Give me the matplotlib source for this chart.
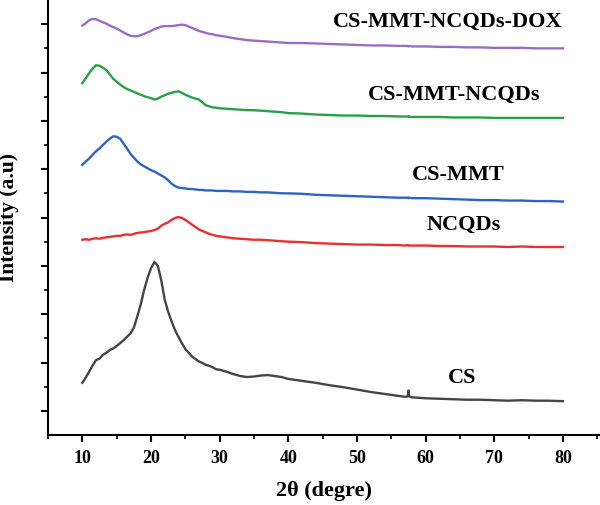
import matplotlib
matplotlib.use("Agg")
import matplotlib.pyplot as plt
from matplotlib.ticker import MultipleLocator, NullFormatter

# 2theta sampling
two_theta = [10, 10.5, 11, 11.5, 12, 12.5, 13, 13.5, 14, 14.5, 15, 15.5, 16, 16.5, 17, 17.5, 18, 18.5, 19, 19.5,
             20, 20.5, 21, 21.5, 22, 22.5, 23, 23.5, 24, 24.5, 25, 25.5, 26, 26.5, 27, 27.5, 28, 28.5, 29, 29.5, 30,
             31, 32, 33, 34, 35, 36, 37, 38, 39, 40, 42, 44, 46, 48, 50, 52, 54, 56, 57, 57.4, 57.5, 57.6, 58,
             60, 62, 64, 66, 68, 70, 72, 74, 76, 78, 80]

# stacked intensities (arbitrary units, offsets included)
cs = [1.08, 1.19, 1.31, 1.44, 1.55, 1.58, 1.66, 1.70, 1.76, 1.79, 1.84, 1.90, 1.96, 2.03, 2.10, 2.22, 2.45, 2.70, 3.00, 3.25,
      3.45, 3.58, 3.50, 3.20, 2.80, 2.55, 2.35, 2.17, 2.03, 1.90, 1.78, 1.70, 1.62, 1.57, 1.52, 1.49, 1.45, 1.43, 1.40, 1.36, 1.35,
      1.31, 1.26, 1.22, 1.20, 1.21, 1.23, 1.24, 1.22, 1.20, 1.16, 1.12, 1.08, 1.03, 0.99, 0.94, 0.89, 0.85, 0.81, 0.79, 0.80, 0.92, 0.80, 0.78,
      0.76, 0.75, 0.74, 0.73, 0.73, 0.72, 0.71, 0.72, 0.71, 0.71, 0.70]

ncqds = [4.04, 4.05, 4.04, 4.06, 4.07, 4.06, 4.08, 4.09, 4.10, 4.11, 4.12, 4.12, 4.14, 4.15, 4.14, 4.16, 4.18, 4.19, 4.20, 4.21,
         4.22, 4.24, 4.27, 4.33, 4.37, 4.40, 4.45, 4.49, 4.51, 4.49, 4.45, 4.40, 4.35, 4.30, 4.25, 4.22, 4.19, 4.16, 4.14, 4.12, 4.11,
         4.09, 4.07, 4.06, 4.05, 4.04, 4.04, 4.03, 4.02, 4.01, 4.00, 3.99, 3.97, 3.96, 3.95, 3.94, 3.94, 3.93, 3.93, 3.92, 3.93, 3.92, 3.92, 3.92,
         3.92, 3.91, 3.91, 3.90, 3.90, 3.90, 3.89, 3.90, 3.89, 3.89, 3.89]

cs_mmt = [5.59, 5.66, 5.72, 5.80, 5.87, 5.93, 6.00, 6.07, 6.13, 6.18, 6.17, 6.13, 6.03, 5.93, 5.82, 5.74, 5.66, 5.60, 5.56, 5.52,
          5.48, 5.45, 5.41, 5.37, 5.33, 5.27, 5.20, 5.15, 5.12, 5.11, 5.10, 5.09, 5.09, 5.08, 5.07, 5.07, 5.06, 5.06, 5.06, 5.05, 5.05,
          5.05, 5.04, 5.04, 5.03, 5.03, 5.02, 5.02, 5.01, 5.00, 5.00, 4.99, 4.97, 4.96, 4.95, 4.94, 4.93, 4.92, 4.91, 4.91, 4.91, 4.90, 4.91, 4.90,
          4.90, 4.89, 4.88, 4.87, 4.86, 4.86, 4.85, 4.85, 4.84, 4.84, 4.83]

cs_mmt_ncqds = [7.28, 7.38, 7.49, 7.58, 7.65, 7.64, 7.60, 7.55, 7.46, 7.37, 7.31, 7.25, 7.20, 7.16, 7.13, 7.10, 7.07, 7.04, 7.01, 6.99,
                6.97, 6.94, 6.96, 7.00, 7.03, 7.06, 7.08, 7.10, 7.11, 7.08, 7.04, 7.01, 6.98, 6.96, 6.94, 6.88, 6.82, 6.80, 6.78, 6.77, 6.76,
                6.75, 6.74, 6.73, 6.72, 6.72, 6.71, 6.70, 6.69, 6.68, 6.66, 6.65, 6.63, 6.62, 6.61, 6.61, 6.60, 6.60, 6.59, 6.59, 6.59, 6.58, 6.59, 6.58,
                6.58, 6.58, 6.57, 6.57, 6.57, 6.56, 6.56, 6.56, 6.56, 6.56, 6.56]

cs_mmt_ncqds_dox = [8.47, 8.52, 8.58, 8.61, 8.60, 8.57, 8.54, 8.51, 8.47, 8.44, 8.41, 8.37, 8.33, 8.29, 8.26, 8.25, 8.25, 8.27, 8.30, 8.33,
                    8.36, 8.40, 8.42, 8.45, 8.46, 8.46, 8.46, 8.47, 8.48, 8.49, 8.48, 8.45, 8.42, 8.39, 8.36, 8.34, 8.32, 8.30, 8.29, 8.27, 8.26,
                    8.24, 8.21, 8.19, 8.17, 8.16, 8.15, 8.14, 8.13, 8.12, 8.11, 8.11, 8.10, 8.09, 8.08, 8.07, 8.06, 8.06, 8.05, 8.05, 8.05, 8.04, 8.05, 8.04,
                    8.04, 8.03, 8.03, 8.02, 8.02, 8.01, 8.01, 8.01, 8.00, 8.00, 8.00]

names = ["CS", "NCQDs", "CS-MMT", "CS-MMT-NCQDs", "CS-MMT-NCQDs-DOX"]
series = [cs, ncqds, cs_mmt, cs_mmt_ncqds, cs_mmt_ncqds_dox]
colors = ["#454545", "#e8312e", "#2f62c4", "#27a046", "#9c6cc4"]
label_x = [65.3, 65.6, 64.8, 64.1, 63.2]
label_y = [1.18, 4.35, 5.38, 7.04, 8.55]

plt.rcParams['font.family'] = ['Liberation Serif', 'DejaVu Serif']
plt.rcParams['font.weight'] = 'bold'

fig = plt.figure(figsize=(6, 5.05), dpi=100)
ax = fig.add_axes([0.08, 0.1386, 0.92, 0.8614])

for name, ys, c, lx, ly in zip(names, series, colors, label_x, label_y):
    ax.plot(two_theta, ys, color=c, lw=1.7)
    ax.text(lx, ly, name, ha='center', va='center', fontsize=16, fontweight='bold')

ax.set_xlim(5, 85.4)
ax.set_ylim(0, 9)
ax.xaxis.set_minor_locator(MultipleLocator(5))
ax.set_xticks([10, 20, 30, 40, 50, 60, 70, 80])
ax.set_yticks([0.5 + i for i in range(9)])
ax.set_yticks(list(range(1, 9)), minor=True)
ax.yaxis.set_major_formatter(NullFormatter())

for s in ['top', 'right']:
    ax.spines[s].set_visible(False)
for s in ['left', 'bottom']:
    ax.spines[s].set_linewidth(1.5)
ax.tick_params(which='major', direction='out', length=5, width=1.5, labelsize=13, pad=6)
ax.tick_params(which='minor', direction='out', length=3, width=1.2)

ax.set_xlabel("2θ (degre)", fontsize=16, fontweight='bold', labelpad=10)
ax.set_ylabel("Intensity (a.u)", fontsize=15.5, fontweight='bold', labelpad=10)

fig.savefig("out.png", dpi=100)
